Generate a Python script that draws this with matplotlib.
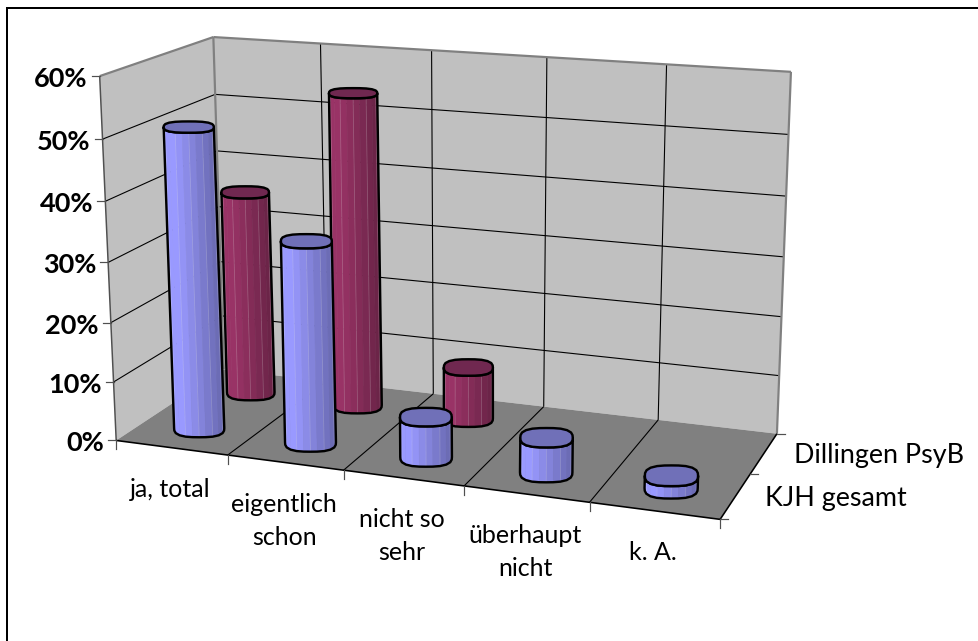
import numpy as np
import matplotlib
matplotlib.use("Agg")
import matplotlib.pyplot as plt
from matplotlib.colors import to_rgb
from matplotlib.patches import Polygon

categories = ["ja, total", "eigentlich\nschon", "nicht so\nsehr", "überhaupt\nnicht", "k. A."]
series_names = ["KJH gesamt", "Dillingen PsyB"]
kjh_values = [50.7, 33.7, 6.7, 5.7, 2.0]
dillingen_values = [35.6, 53.9, 8.9, 0, 0]
value_ticks = [0, 10, 20, 30, 40, 50, 60]

FONT = "Lato"
W, H = 979, 641
fig = plt.figure(figsize=(W / 100, H / 100), dpi=100)
ax = fig.add_axes([0, 0, 1, 1])
ax.set_xlim(0, W); ax.set_ylim(H, 0); ax.axis("off")
LW = 72 / 100  # points per pixel

# camera calibration: scene corners (category, series, value) -> page pixel
scene = np.array([[0,0,0],[5,0,0],[5,2,0],[0,2,0],[0,2,60],[5,2,60],[0,0,60]], float)
page = np.array([[116,440],[720,520],[777,433],[224,370],[213,37],[791,72],[100,76]], float)
A, b = [], []
for (X, Y, Z), (u, v) in zip(scene, page):
    A.append([X, Y, Z, 1, 0, 0, 0, 0, -u*X, -u*Y, -u*Z]); b.append(u)
    A.append([0, 0, 0, 0, X, Y, Z, 1, -v*X, -v*Y, -v*Z]); b.append(v)
p = np.linalg.lstsq(np.array(A), np.array(b), rcond=None)[0]
P = np.append(p, 1).reshape(3, 4)

def pt(x, s, z):
    q = P @ np.array([x, s, z, 1.0])
    return q[:2] / q[2]

def seg(a, b, color="black", lw=1.0, zo=2):
    a, b = pt(*a), pt(*b)
    ax.plot([a[0], b[0]], [a[1], b[1]], color=color, lw=lw * LW, zorder=zo, solid_capstyle="butt")

top = value_ticks[-1]
# chart frame: cropped on the right and at the bottom
ax.plot([7.5, 7.5, W], [H, 7.5, 7.5], color="black", lw=2 * LW, zorder=0, solid_joinstyle="miter")
# walls and floor
ax.add_patch(Polygon([pt(0,0,0), pt(0,2,0), pt(0,2,top), pt(0,0,top)], fc="#C0C0C0", ec="none", zorder=1))
ax.add_patch(Polygon([pt(0,2,0), pt(5,2,0), pt(5,2,top), pt(0,2,top)], fc="#C0C0C0", ec="none", zorder=1))
ax.add_patch(Polygon([pt(0,0,0), pt(5,0,0), pt(5,2,0), pt(0,2,0)], fc="#808080", ec="none", zorder=1))
# grid
for z in value_ticks[1:-1]:
    seg((0,0,z), (0,2,z), lw=1.1)
    seg((0,2,z), (5,2,z), lw=1.1)
for x in range(1, 5):
    seg((x,2,0), (x,2,top), lw=1.1)
    seg((x,0,0), (x,2,0), lw=1.1)
# wall borders
GR = "#808080"
seg((0,0,top), (0,2,top), GR, 2.2)
seg((0,2,top), (5,2,top), GR, 2.2)
seg((0,2,0), (0,2,top), GR, 2.2)
seg((5,2,0), (5,2,top), GR, 2.2)
seg((0,0,0), (0,0,top), "#505050", 1.5)
seg((0,0,0), (5,0,0), "black", 1.6)
seg((5,0,0), (5,2,0), "black", 1.6)

# ticks
for z in value_ticks:
    a = pt(0,0,z)
    ax.plot([a[0]-8, a[0]], [a[1], a[1]], color="#505050", lw=1.2*LW, zorder=2)
    ax.text(a[0]-12, a[1]+3, f"{z}%", ha="right", va="center", family=FONT, weight="bold",
            fontsize=19.5, color="black")
for x in range(6):
    a = pt(x,0,0)
    ax.plot([a[0], a[0]], [a[1], a[1]+9], color="#505050", lw=1.2*LW, zorder=2)
for s in range(3):
    a = pt(5,s,0)
    ax.plot([a[0], a[0]+8], [a[1], a[1]], color="#505050", lw=1.2*LW, zorder=2)

for i, c in enumerate(categories):
    a = pt(i+.5, 0, 0)
    ax.text(a[0]-1, a[1]+30, c, ha="center", va="top", family=FONT, fontsize=18,
            linespacing=1.55, color="black")
for s, name in enumerate(series_names):
    a = pt(5, s+.5, 0)
    ax.text(a[0]+30, a[1]+2, name, ha="left", va="center", family=FONT, fontsize=19.4, color="black")

# cylinders
RY_S = 0.25
RX_GROW = 0.4
N = 24
def shade(base, t):
    base = np.array(to_rgb(base))
    f = np.interp(t, [0, .2, 1], [1.0, 1.0, .68])
    return tuple(base * f)

def ring(c, rx, ry):
    th = np.linspace(0, 2*np.pi, N, endpoint=False)
    m = 1 + 0.05*np.cos(4*(th - np.pi/4))
    return np.column_stack([c[0] + rx*m*np.cos(th), c[1] + ry*m*np.sin(th)])

def cylinder(x0, s0, val, r0, base, topc, zo):
    rx = r0 + RX_GROW * x0
    cb, ct = pt(x0, s0, 0), pt(x0, s0, val)
    ryb = RY_S * abs(pt(x0, s0+.5, 0)[1] - pt(x0, s0-.5, 0)[1])
    ryt = RY_S * abs(pt(x0, s0+.5, val)[1] - pt(x0, s0-.5, val)[1])
    bot, tp = ring(cb, rx, ryb), ring(ct, rx, ryt)
    # near side of the ring runs over th = 0..pi, y grows downward; order left to right
    idx = list(range(N//2, -1, -1))
    xl, xr = bot[N//2, 0], bot[0, 0]
    for a, b in zip(idx[:-1], idx[1:]):
        t = (0.5*(bot[a,0]+bot[b,0]) - xl) / (xr - xl)
        ax.add_patch(Polygon([bot[a], bot[b], tp[b], tp[a]], fc=shade(base, t), ec=shade(base, t), lw=.4, zorder=zo))
        if a % 2 == 0 and 0 < a < N//2:
            ax.plot([bot[a,0], tp[a,0]], [bot[a,1], tp[a,1]], color="white", alpha=.2, lw=.8*LW, zorder=zo+.1)
    outline = np.vstack([bot[idx], tp[idx][::-1]])
    ax.add_patch(Polygon(outline, fc="none", ec="black", lw=2.4*LW, joinstyle="round", zorder=zo+.2))
    ax.add_patch(Polygon(tp, fc=topc, ec="black", lw=2.4*LW, joinstyle="round", zorder=zo+.3))

zo = 3
for i, v in enumerate(dillingen_values):
    if v > 0:
        cylinder(i+.5, 1.5, v, 24.8, "#993366", "#702850", zo); zo += 1
for i, v in enumerate(kjh_values):
    if v > 0:
        cylinder(i+.5, .5, v, 26.2, "#9999FF", "#7070B8", zo); zo += 1

fig.savefig("out.png", dpi=100)
